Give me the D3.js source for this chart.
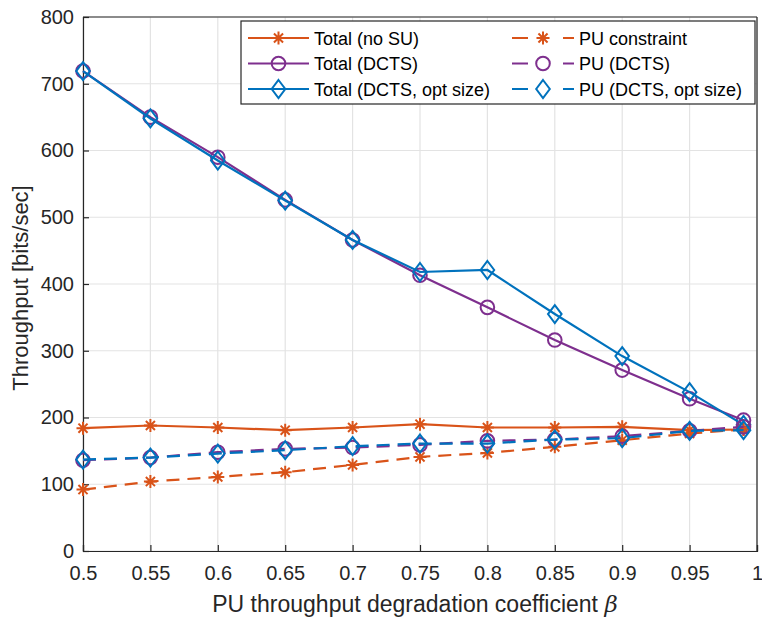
<!DOCTYPE html>
<html>
<head>
<meta charset="utf-8">
<script src="https://cdn.jsdelivr.net/npm/d3@7"></script>
<style>
  body { margin: 0; background: #fff; }
  svg { font-family: "Liberation Sans", Arial, sans-serif; }
</style>
</head>
<body>
<div id="chart"></div>
<script>
// x values (beta)
var betas = [0.5, 0.55, 0.6, 0.65, 0.7, 0.75, 0.8, 0.85, 0.9, 0.95, 0.99];

// series values
var totalNoSU   = [184, 188, 185, 181, 185, 190, 185, 185, 186, 181, 182];
var puConstr    = [92, 104, 111, 118, 129, 141, 147, 156, 166, 176, 182];
var totalDCTS   = [719, 650, 590, 526, 466, 413, 365, 316, 271, 228, 196];
var puDCTS      = [136, 140, 148, 153, 155, 159, 165, 167, 172, 180, 186];
var totalOpt    = [719, 648, 585, 525, 466, 418, 421, 355, 292, 238, 189];
var puOpt       = [137, 140, 146, 151, 157, 161, 161, 167, 169, 180, 181];

var xTicks = [0.5, 0.55, 0.6, 0.65, 0.7, 0.75, 0.8, 0.85, 0.9, 0.95, 1];
var yTicks = [0, 100, 200, 300, 400, 500, 600, 700, 800];

var orange = "#D95319", purple = "#7E2F8E", blue = "#0072BD";

var series = [
  { name: "Total (no SU)", vals: totalNoSU, color: orange, dash: null, marker: "star" },
  { name: "Total (DCTS)", vals: totalDCTS, color: purple, dash: null, marker: "circle" },
  { name: "Total (DCTS, opt size)", vals: totalOpt, color: blue, dash: null, marker: "diamond" },
  { name: "PU constraint", vals: puConstr, color: orange, dash: "13,8", marker: "star" },
  { name: "PU (DCTS)", vals: puDCTS, color: purple, dash: "13,8", marker: "circle" },
  { name: "PU (DCTS, opt size)", vals: puOpt, color: blue, dash: "13,8", marker: "diamond" }
];

var W = 762, H = 619;
var pLeft = 83, pRight = 757, pTop = 17, pBottom = 551;

var svg = d3.select("#chart").append("svg").attr("width", W).attr("height", H);

var x = d3.scaleLinear().domain([0.5, 1]).range([pLeft, pRight]);
var y = d3.scaleLinear().domain([0, 800]).range([pBottom, pTop]);

// grid
var grid = svg.append("g");
grid.selectAll(".gx").data(xTicks).enter().append("line")
  .attr("x1", d => x(d)).attr("x2", d => x(d))
  .attr("y1", pTop).attr("y2", pBottom)
  .attr("stroke", "#e3e3e3").attr("stroke-width", 1.2);
grid.selectAll(".gy").data(yTicks).enter().append("line")
  .attr("x1", pLeft).attr("x2", pRight)
  .attr("y1", d => y(d)).attr("y2", d => y(d))
  .attr("stroke", "#e3e3e3").attr("stroke-width", 1.2);

// axes
var xAxis = svg.append("g").attr("transform", "translate(0," + pBottom + ")")
  .call(d3.axisBottom(x).tickValues(xTicks).tickSize(-6).tickPadding(15).tickFormat(d => d3.format("")(d)));
var yAxis = svg.append("g").attr("transform", "translate(" + pLeft + ",0)")
  .call(d3.axisLeft(y).tickValues(yTicks).tickSize(-6).tickPadding(9));
[xAxis, yAxis].forEach(function(a) {
  a.select(".domain").attr("stroke", "#262626").attr("stroke-width", 1.2);
  a.selectAll(".tick line").attr("stroke", "#262626").attr("stroke-width", 1.2);
  a.selectAll("text").attr("fill", "#262626").style("font-size", "20px").style("font-family", "Liberation Sans, Arial, sans-serif");
});

// labels
svg.append("text").attr("x", (pLeft + pRight) / 2 - 5).attr("y", 612)
  .attr("text-anchor", "middle").attr("fill", "#262626").style("font-size", "23px")
  .html('PU throughput degradation coefficient <tspan font-style="italic" font-family="DejaVu Serif">β</tspan>');
svg.append("text").attr("transform", "translate(28," + ((pTop + pBottom) / 2 + 4) + ") rotate(-90)")
  .attr("text-anchor", "middle").attr("fill", "#262626").style("font-size", "22px")
  .text("Throughput [bits/sec]");

function drawMarker(g, type, color) {
  if (type === "circle") {
    g.append("circle").attr("r", 6.8).attr("fill", "none").attr("stroke", color).attr("stroke-width", 2);
  } else if (type === "diamond") {
    g.append("path").attr("d", "M0,-9L6.8,0L0,9L-6.8,0Z").attr("fill", "none").attr("stroke", color).attr("stroke-width", 2);
  } else {
    var r = 6.5;
    g.append("path").attr("d",
      "M0," + (-r) + "L0," + r +
      "M" + (-r) + ",0L" + r + ",0" +
      "M" + (-r * 0.7) + "," + (-r * 0.7) + "L" + (r * 0.7) + "," + (r * 0.7) +
      "M" + (-r * 0.7) + "," + (r * 0.7) + "L" + (r * 0.7) + "," + (-r * 0.7))
      .attr("stroke", color).attr("stroke-width", 2);
  }
}

var line = d3.line().x((d, i) => x(betas[i])).y(d => y(d));

series.forEach(function(s) {
  var g = svg.append("g");
  g.append("path").datum(s.vals).attr("d", line)
    .attr("fill", "none").attr("stroke", s.color).attr("stroke-width", 2.2)
    .attr("stroke-dasharray", s.dash);
  s.vals.forEach(function(v, i) {
    var m = g.append("g").attr("transform", "translate(" + x(betas[i]) + "," + y(v) + ")");
    drawMarker(m, s.marker, s.color);
  });
});

// box top/right
svg.append("line").attr("x1", pLeft).attr("x2", pRight).attr("y1", pTop).attr("y2", pTop).attr("stroke", "#262626").attr("stroke-width", 1.2);
svg.append("line").attr("x1", pRight).attr("x2", pRight).attr("y1", pTop).attr("y2", pBottom).attr("stroke", "#262626").attr("stroke-width", 1.2);

// legend
var lg = svg.append("g");
lg.append("rect").attr("x", 241).attr("y", 21).attr("width", 514).attr("height", 83)
  .attr("fill", "#fff").attr("stroke", "#262626").attr("stroke-width", 1.2);
series.forEach(function(s, i) {
  var col = Math.floor(i / 3), row = i % 3;
  var lx = col === 0 ? 248 : 512;
  var ly = 38 + row * 25.5;
  var len = col === 0 ? 61 : 62;
  lg.append("line").attr("x1", lx).attr("x2", lx + len).attr("y1", ly).attr("y2", ly)
    .attr("stroke", s.color).attr("stroke-width", 2.2).attr("stroke-dasharray", s.dash ? "16,35" : null);
  var m = lg.append("g").attr("transform", "translate(" + (lx + len / 2) + "," + ly + ")");
  drawMarker(m, s.marker, s.color);
  lg.append("text").attr("x", lx + len + 5).attr("y", ly + 6.5).attr("fill", "#000")
    .style("font-size", "18px").text(s.name);
});
</script>
</body>
</html>
